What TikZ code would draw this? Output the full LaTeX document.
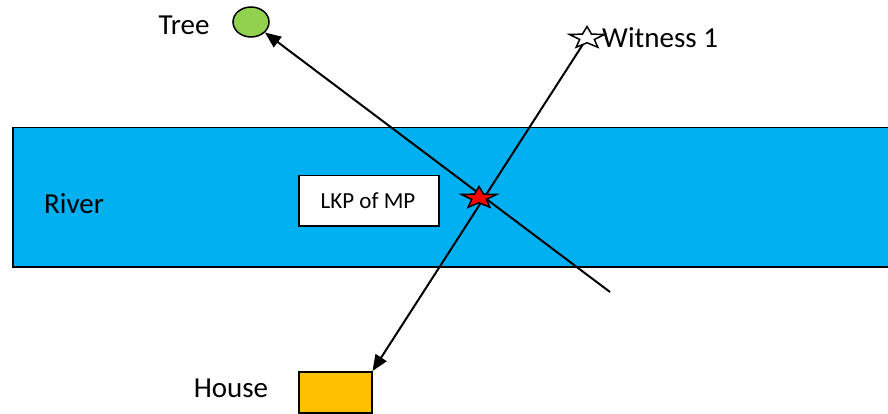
\documentclass[tikz,border=0pt]{standalone}
\usepackage{fontspec}
\setmainfont{Carlito}
\usetikzlibrary{shapes.geometric,arrows.meta}
\definecolor{riverblue}{HTML}{00B0F0}
\definecolor{treegreen}{HTML}{92D050}
\definecolor{houseorange}{HTML}{FFC000}
\begin{document}
\begin{tikzpicture}[x=1pt,y=-1pt,
  lbl/.style={font=\fontsize{29}{33}\selectfont, inner sep=0pt},
  smalllbl/.style={font=\fontsize{23}{27}\selectfont, inner sep=0pt},
  arr/.style={line width=2pt, -{Triangle[length=16pt,width=13pt]}},
  starshape/.style={star, star points=5, star point ratio=2.4, minimum size=37pt, inner sep=0pt, draw=black, line width=1.5pt, yscale=0.62, transform shape}
]
\useasboundingbox (0,0) rectangle (888,414);
\node[draw=black, line width=1.5pt, fill=riverblue, minimum width=878pt, minimum height=139pt, inner sep=0pt, anchor=north west] (river) at (12,127) {};
\node[lbl] (rivertext) at (74,204) {River};
\node[draw=black, line width=1.5pt, fill=white, minimum width=140pt, minimum height=50pt, inner sep=0pt, anchor=north west] (lkp) at (298,175) {};
\node[smalllbl] (lkptext) at (368,201) {LKP of MP};
\node[ellipse, draw=black, line width=1.5pt, fill=treegreen, minimum width=36pt, minimum height=30pt, inner sep=0pt] (tree) at (251,22) {};
\node[lbl] (treetext) at (184,25) {Tree};
\node[draw=black, line width=1.5pt, fill=houseorange, minimum width=73pt, minimum height=41pt, inner sep=0pt, anchor=north west] (house) at (298,371) {};
\node[lbl] (housetext) at (231,388) {House};
\coordinate (lineend) at (610,292);
\coordinate (wc) at (587,38);
\draw[arr] (lineend) -- (tree);
\draw[arr] (wc) -- (house.north east);
\node[starshape, fill=white] (witness) at (wc) {};
\node[lbl, anchor=west] (witnesstext) at (602,38) {Witness 1};
\node[starshape, fill=red] (lkpstar) at (479,198) {};
\end{tikzpicture}
\end{document}
